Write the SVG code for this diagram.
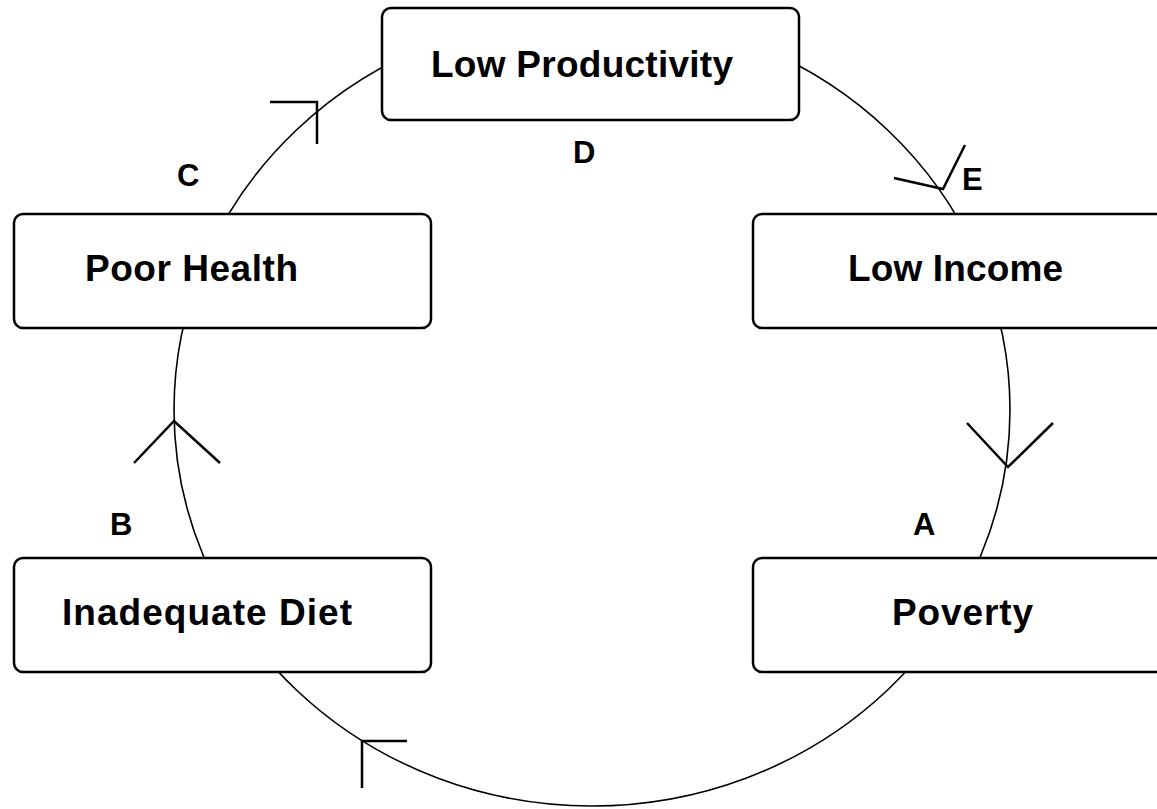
<svg xmlns="http://www.w3.org/2000/svg" width="1157" height="809" viewBox="0 0 1157 809">
<style>
.box{fill:#fff;stroke:#000;stroke-width:2.5}
.conn{fill:none;stroke:#000;stroke-width:1.6}
.head{fill:none;stroke:#000;stroke-width:2.5}
.t{font-family:"Liberation Sans",Arial,sans-serif;font-weight:bold;font-size:37px;fill:#000}
.l{font-family:"Liberation Sans",Arial,sans-serif;font-weight:bold;font-size:31px;fill:#000}
</style>
<rect width="1157" height="809" fill="#fff"/>
<g id="connectors">
<ellipse class="conn" cx="592" cy="410" rx="418" ry="396"/>
<polyline class="head" points="270,102 317,102 317,144"/>
<polyline class="head" points="894,178 943,189 965,145"/>
<polyline class="head" points="967,423 1008,467 1053,423"/>
<polyline class="head" points="134,463 174,421 220,463"/>
<polyline class="head" points="407,741 362,741 362,788"/>
</g>
<g id="low-productivity">
<rect class="box" x="382" y="8" width="417" height="112" rx="9"/>
<text class="t" x="431" y="77" textLength="302">Low Productivity</text>
</g>
<g id="low-income">
<rect class="box" x="753" y="214" width="430" height="114" rx="9"/>
<text class="t" x="848" y="281" textLength="215">Low Income</text>
</g>
<g id="poor-health">
<rect class="box" x="14" y="214" width="417" height="114" rx="9"/>
<text class="t" x="85" y="281" textLength="213">Poor Health</text>
</g>
<g id="inadequate-diet">
<rect class="box" x="14" y="558" width="417" height="114" rx="9"/>
<text class="t" x="62" y="625" textLength="290">Inadequate Diet</text>
</g>
<g id="poverty">
<rect class="box" x="753" y="558" width="430" height="114" rx="9"/>
<text class="t" x="892" y="625" textLength="141">Poverty</text>
</g>
<g id="labels">
<text class="l" x="177" y="186">C</text>
<text class="l" x="573" y="163">D</text>
<text class="l" x="962" y="190">E</text>
<text class="l" x="913" y="535">A</text>
<text class="l" x="110" y="535">B</text>
</g>
</svg>
